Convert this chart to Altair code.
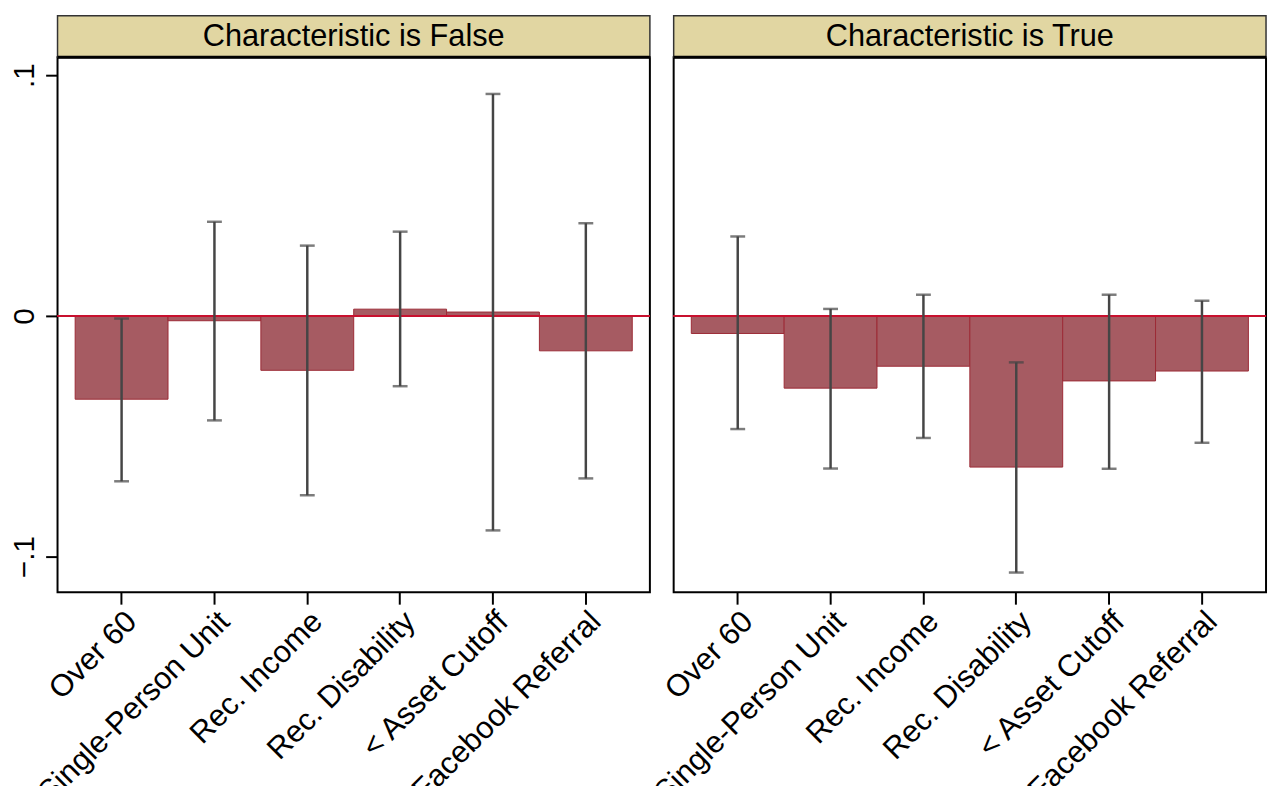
import altair as alt
import pandas as pd

categories = ["Over 60", "Single-Person Unit", "Rec. Income", "Rec. Disability",
              "< Asset Cutoff", "Facebook Referral"]
panel_titles = ["Characteristic is False", "Characteristic is True"]

false_coef = [-0.0346, -0.0020, -0.0226, 0.0028, 0.0016, -0.0145]
false_lo = [-0.0687, -0.0434, -0.0745, -0.0292, -0.0891, -0.0675]
false_hi = [-0.0011, 0.0391, 0.0292, 0.0350, 0.0922, 0.0385]

true_coef = [-0.0073, -0.0300, -0.0209, -0.0628, -0.0270, -0.0229]
true_lo = [-0.0470, -0.0634, -0.0507, -0.1066, -0.0635, -0.0527]
true_hi = [0.0330, 0.0029, 0.0088, -0.0193, 0.0088, 0.0063]

y_ticks = [-0.1, 0, 0.1]
y_domain = [-0.1148, 0.1074]

FONT = "Liberation Sans"
W, H = 598, 540
HDR = 42

bar_fill = "#a65b62"
bar_stroke = "#9c2a36"
zero_color = "#c8102e"
err_color = "#454545"
strip_fill = "#e1d6a2"


def panel(title, coef, lo, hi, show_y):
    df = pd.DataFrame({"cat": categories, "b": coef, "lo": lo, "hi": hi})
    sc = alt.Scale(domain=y_domain, nice=False, zero=False)
    if show_y:
        yax = alt.Axis(title=None, values=y_ticks, labelAngle=270,
                       labelFontSize=30, labelFont=FONT, labelColor="black",
                       tickSize=12, tickWidth=2, tickColor="black",
                       labelPadding=6, domain=False, grid=False,
                       labelExpr="datum.value == 0 ? '0' : replace(format(datum.value, '.1f'), '0.', '.')")
    else:
        yax = None
    xenc = alt.X("cat:N", sort=categories,
                 scale=alt.Scale(paddingInner=0, paddingOuter=0.19),
                 axis=alt.Axis(title=None, labelAngle=315, labelFontSize=31,
                               labelFont=FONT, labelColor="black", labelLimit=500,
                               tickSize=12, tickWidth=2, tickColor="black",
                               labelPadding=2, domain=False))
    base = alt.Chart(df)
    bars = base.mark_bar(fill=bar_fill, stroke=bar_stroke, strokeWidth=1).encode(
        x=xenc, y=alt.Y("b:Q", scale=sc, axis=yax))
    zero = base.mark_rule(color=zero_color, strokeWidth=2).encode(
        y=alt.YDatum(0, scale=sc, axis=yax))
    err = base.mark_rule(color=err_color, strokeWidth=2.5).encode(
        x=xenc, y=alt.Y("lo:Q", scale=sc, axis=yax), y2="hi:Q")
    cap_lo = base.mark_tick(color=err_color, thickness=2.5, size=15).encode(
        x=xenc, y=alt.Y("lo:Q", scale=sc, axis=yax))
    cap_hi = base.mark_tick(color=err_color, thickness=2.5, size=15).encode(
        x=xenc, y=alt.Y("hi:Q", scale=sc, axis=yax))

    hdf = pd.DataFrame({"t": [title]})
    hbase = alt.Chart(hdf)
    hrect = hbase.mark_rect(fill=strip_fill, stroke="#333333", strokeWidth=1.5).encode(
        x=alt.value(0), x2=alt.value(W), y=alt.value(-HDR), y2=alt.value(0))
    hline = hbase.mark_rule(color="black", strokeWidth=3).encode(
        x=alt.value(0), x2=alt.value(W), y=alt.value(0))
    htext = hbase.mark_text(fontSize=31, font=FONT, color="black",
                            baseline="middle", align="center").encode(
        x=alt.value(W / 2), y=alt.value(-HDR / 2 + 1), text="t:N")

    return alt.layer(bars, zero, err, cap_lo, cap_hi, hrect, hline, htext).properties(
        width=W, height=H)


left = panel(panel_titles[0], false_coef, false_lo, false_hi, True)
right = panel(panel_titles[1], true_coef, true_lo, true_hi, False)

chart = alt.hconcat(left, right, spacing=24, bounds="flush").properties(
    padding={"left": 0, "top": 2, "right": 0, "bottom": 0},
    background="white",
).configure_view(stroke="black", strokeWidth=2).resolve_scale(y="independent")

chart.save("out.html", embed_options={"renderer": "svg", "actions": False})
